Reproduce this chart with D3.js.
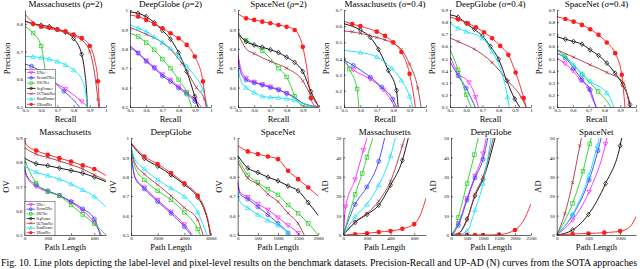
<!DOCTYPE html>
<html>
<head>
<meta charset="utf-8">
<script src="https://cdn.jsdelivr.net/npm/d3@7"></script>
<style>
  body { margin: 0; background: #fff; }
  svg { display: block; }
  text { font-family: "Liberation Serif", "DejaVu Serif", serif; }
</style>
</head>
<body>
<div id="chart"></div>
<script>
// methods, in drawing order (last one on top)
const methods = ["UNet++", "RecurrUNet", "DSCNet", "SegFormer", "OCTransNet", "RoadFormer", "URoadNet"];
const colors = ["#ff22ff", "#3b3bff", "#22d022", "#000000", "#a83440", "#10e0ff", "#ff1c1c"];
const shapes = ["triDown", "circleX", "square", "diamond", "cross", "triUp", "dot"];

// [x, y] points; a third value 0 means "curve only, no marker"
const prMassRho = [
  [[0.5,0.63],[0.6,0.61],[0.75,0.565],[0.85,0.52],[0.89,0.5]],
  [[0.5,0.655],[0.54,0.647],[0.64,0.61],[0.74,0.557],[0.8,0.525,0],[0.835,0.5]],
  [[0.5,0.79],[0.55,0.767],[0.6,0.72],[0.625,0.63,0],[0.655,0.5]],
  [[0.5,0.81],[0.55,0.80],[0.6,0.795],[0.65,0.79],[0.7,0.78],[0.75,0.77],[0.8,0.747],[0.85,0.69],[0.87,0.62,0],[0.88,0.56,0],[0.885,0.5]],
  [[0.5,0.835],[0.55,0.805,0],[0.6,0.79],[0.7,0.777],[0.8,0.757],[0.85,0.742],[0.9,0.70],[0.93,0.62,0],[0.95,0.527],[0.955,0.5]],
  [[0.5,0.683],[0.55,0.681],[0.6,0.678],[0.65,0.672],[0.7,0.664],[0.75,0.652],[0.8,0.633],[0.85,0.6,0],[0.875,0.55,0],[0.885,0.5]],
  [[0.5,0.81],[0.55,0.80],[0.6,0.79],[0.65,0.786],[0.7,0.78],[0.75,0.773],[0.8,0.761],[0.85,0.749],[0.9,0.72],[0.93,0.67,0],[0.95,0.593],[0.96,0.5]]
];
const prDeepRho = [
  [[0.5,0.815],[0.55,0.78],[0.6,0.74],[0.65,0.705],[0.7,0.668],[0.75,0.64],[0.8,0.605],[0.85,0.575],[0.9,0.54],[0.94,0.5]],
  [[0.5,0.81],[0.55,0.777],[0.6,0.735],[0.65,0.7],[0.7,0.66],[0.75,0.632],[0.8,0.598],[0.85,0.567],[0.9,0.53],[0.925,0.5]],
  [[0.5,0.88],[0.55,0.863],[0.6,0.832],[0.65,0.795],[0.7,0.747],[0.75,0.7],[0.8,0.64],[0.85,0.575],[0.88,0.5]],
  [[0.5,0.99],[0.55,0.983],[0.6,0.966],[0.65,0.935],[0.7,0.894],[0.75,0.85],[0.8,0.78],[0.85,0.683],[0.9,0.555],[0.92,0.5]],
  [[0.5,0.91],[0.6,0.875],[0.7,0.832],[0.82,0.726],[0.91,0.6],[0.96,0.54],[0.975,0.5]],
  [[0.5,0.923],[0.55,0.906],[0.6,0.889],[0.65,0.86],[0.7,0.832],[0.75,0.803],[0.8,0.76],[0.85,0.709],[0.9,0.66,0],[0.95,0.589],[0.98,0.5]],
  [[0.5,0.974],[0.55,0.966],[0.6,0.949],[0.65,0.928],[0.7,0.906],[0.75,0.88],[0.8,0.854],[0.85,0.82],[0.9,0.76],[0.95,0.632],[0.97,0.5]]
];
const prSpaceRho = [
  [[0.5,0.77],[0.52,0.69,0],[0.55,0.65],[0.6,0.63],[0.65,0.617],[0.7,0.605],[0.75,0.59],[0.8,0.57],[0.85,0.548,0],[0.9,0.52,0],[1,0.5]],
  [[0.5,0.75],[0.52,0.67,0],[0.55,0.64],[0.6,0.625],[0.65,0.613],[0.7,0.6],[0.75,0.588],[0.8,0.57],[0.85,0.55,0],[0.9,0.52,0],[1,0.5]],
  [[0.5,0.9],[0.52,0.86,0],[0.55,0.845],[0.6,0.82,0],[0.65,0.79],[0.7,0.75,0],[0.75,0.7],[0.8,0.655],[0.83,0.6,0],[0.85,0.555],[0.9,0.507],[0.95,0.5,0],[1,0.5]],
  [[0.5,0.88],[0.55,0.837],[0.6,0.82],[0.65,0.808],[0.7,0.795],[0.75,0.78],[0.8,0.757],[0.85,0.73],[0.9,0.683],[0.95,0.58],[1,0.5]],
  [[0.5,0.88],[0.55,0.8,0],[0.6,0.775],[0.7,0.735],[0.8,0.7],[0.9,0.635],[0.95,0.56],[1,0.5]],
  [[0.5,0.7],[0.52,0.63,0],[0.55,0.6],[0.6,0.575],[0.65,0.555],[0.7,0.55],[0.75,0.548],[0.8,0.543],[0.85,0.535],[0.9,0.52,0],[0.95,0.505,0],[1,0.5]],
  [[0.5,0.98],[0.55,0.957],[0.6,0.949],[0.65,0.94],[0.7,0.932],[0.75,0.923],[0.8,0.914],[0.85,0.897],[0.9,0.81],[0.925,0.7,0],[0.95,0.546],[0.97,0.51,0],[1,0.5]]
];
const prMassSigma = [
  [[0.5,0.38],[0.557,0.33],[0.66,0.272],[0.74,0.207],[0.8,0.12,0],[0.81,0.1]],
  [[0.5,0.39],[0.557,0.357],[0.66,0.285],[0.73,0.223],[0.797,0.149],[0.82,0.1]],
  [[0.5,0.41],[0.533,0.334],[0.58,0.211],[0.59,0.1]],
  [[0.5,0.615],[0.6,0.576],[0.66,0.531],[0.71,0.457],[0.77,0.326],[0.82,0.203],[0.83,0.1]],
  [[0.5,0.57],[0.55,0.565],[0.6,0.555],[0.65,0.545],[0.7,0.53],[0.75,0.515],[0.8,0.495],[0.85,0.455],[0.9,0.365],[0.95,0.217],[0.97,0.1]],
  [[0.5,0.45],[0.6,0.437],[0.7,0.41],[0.79,0.34],[0.85,0.265],[0.9,0.166],[0.92,0.1]],
  [[0.5,0.63],[0.55,0.613],[0.6,0.6],[0.7,0.566],[0.75,0.54],[0.8,0.5],[0.85,0.44],[0.9,0.305],[0.92,0.2,0],[0.935,0.1]]
];
const prDeepSigma = [
  [[0.5,0.516],[0.55,0.38],[0.617,0.303],[0.658,0.182],[0.675,0.1]],
  [[0.5,0.475],[0.55,0.357],[0.6,0.256],[0.645,0.13,0],[0.655,0.1]],
  [[0.5,0.577],[0.55,0.407],[0.6,0.201],[0.63,0.1]],
  [[0.5,0.86],[0.55,0.84],[0.6,0.79],[0.65,0.741],[0.7,0.686],[0.75,0.599],[0.8,0.495],[0.85,0.319],[0.9,0.166],[0.93,0.1]],
  [[0.5,0.67],[0.55,0.64],[0.65,0.577],[0.76,0.467],[0.86,0.311],[0.94,0.18],[0.97,0.1]],
  [[0.5,0.79],[0.55,0.749],[0.6,0.722],[0.7,0.667],[0.76,0.557],[0.82,0.38,0],[0.855,0.182],[0.865,0.1]],
  [[0.5,0.84],[0.55,0.823],[0.61,0.79],[0.66,0.758],[0.71,0.716],[0.76,0.667],[0.81,0.604],[0.86,0.53],[0.905,0.385],[0.955,0.174],[0.97,0.1]]
];
const prSpaceSigma = [
  [[0.5,0.5],[0.55,0.46],[0.6,0.4],[0.65,0.32],[0.7,0.25],[0.73,0.15,0],[0.75,0.1]],
  [[0.5,0.54],[0.553,0.503],[0.605,0.421],[0.658,0.325],[0.71,0.242],[0.745,0.1]],
  [[0.5,0.57],[0.55,0.52],[0.66,0.366],[0.76,0.229],[0.82,0.14,0],[0.84,0.1]],
  [[0.5,0.68],[0.553,0.659],[0.605,0.64],[0.658,0.618],[0.71,0.571],[0.763,0.525],[0.815,0.462],[0.868,0.379],[0.916,0.283],[0.962,0.12],[0.965,0.1]],
  [[0.5,0.571],[0.605,0.511],[0.71,0.448],[0.815,0.385],[0.92,0.303],[0.96,0.1]],
  [[0.5,0.55],[0.55,0.51,0],[0.605,0.448],[0.658,0.374],[0.71,0.311],[0.815,0.215],[0.845,0.15,0],[0.86,0.1]],
  [[0.5,0.845],[0.553,0.826],[0.605,0.804],[0.658,0.777],[0.71,0.741],[0.763,0.695],[0.815,0.632],[0.868,0.544],[0.91,0.366],[0.93,0.1]]
];

const ovMass = [
  [[0,0.77],[20,0.74,0],[100,0.7],[200,0.679],[300,0.663],[400,0.635],[500,0.6],[600,0.551],[660,0.5]],
  [[0,0.78],[20,0.745,0],[100,0.707],[200,0.682],[300,0.663],[400,0.638],[500,0.608],[600,0.566],[650,0.5]],
  [[0,0.81],[100,0.714],[200,0.679],[300,0.661],[400,0.624],[500,0.585],[600,0.546],[700,0.5]],
  [[0,0.817],[100,0.794],[200,0.786],[300,0.776],[400,0.766],[500,0.755],[600,0.739],[700,0.72]],
  [[0,0.86],[100,0.833],[200,0.82],[300,0.805],[400,0.79],[500,0.772],[600,0.748],[700,0.725]],
  [[0,0.783],[100,0.759],[200,0.745],[300,0.73],[400,0.71],[500,0.686],[600,0.659],[700,0.615]],
  [[0,0.895],[20,0.87,0],[100,0.848],[200,0.831],[300,0.817],[400,0.803],[500,0.787],[600,0.772],[700,0.745]]
];
const ovDeep = [
  [[0,0.92],[300,0.8,0],[1000,0.745],[2000,0.68],[3000,0.62],[4000,0.555],[4600,0.5]],
  [[0,0.92],[300,0.795,0],[1000,0.738],[2000,0.672],[3000,0.612],[4000,0.543],[4500,0.5]],
  [[0,0.94],[300,0.85,0],[1000,0.784],[2000,0.728],[3000,0.681],[4000,0.617],[5000,0.531],[5200,0.5]],
  [[0,0.97],[1000,0.895],[2000,0.855],[3000,0.81],[4000,0.76],[5000,0.695],[5500,0.63,0],[5800,0.56,0],[5950,0.5]],
  [[0,0.95],[300,0.87,0],[1000,0.814],[2000,0.759],[3000,0.702],[4000,0.641],[5000,0.578],[5400,0.5]],
  [[0,0.96],[300,0.89,0],[1000,0.84],[2000,0.785],[3000,0.741],[4000,0.698],[5000,0.617],[5700,0.5]],
  [[0,0.975],[1000,0.905],[2000,0.866],[3000,0.819],[4000,0.767],[5000,0.703],[5500,0.64,0],[5800,0.57,0],[6000,0.5]]
];
const ovSpace = [
  [[0,0.78],[60,0.72,0],[250,0.695],[500,0.66],[750,0.63],[1000,0.59],[1250,0.55],[1500,0.51],[1550,0.5]],
  [[0,0.77],[60,0.71,0],[250,0.685],[500,0.645],[750,0.605],[1000,0.56],[1250,0.51],[1280,0.5]],
  [[0,0.9],[250,0.81],[500,0.771],[750,0.736],[1000,0.707],[1250,0.655],[1500,0.612],[1750,0.56],[2000,0.5]],
  [[0,0.91],[250,0.845],[500,0.822],[750,0.798],[1000,0.779],[1250,0.753],[1500,0.728],[1750,0.667],[2000,0.6]],
  [[0,0.88],[250,0.793],[500,0.762],[750,0.71],[1000,0.672],[1250,0.612],[1500,0.559],[1650,0.5]],
  [[0,0.72],[60,0.67,0],[250,0.64],[500,0.605],[750,0.575],[1000,0.55],[1250,0.51],[1300,0.5]],
  [[0,0.96],[250,0.931],[500,0.917],[750,0.905],[1000,0.891],[1250,0.831],[1500,0.788],[1750,0.745],[2000,0.7]]
];

const adMass = [
  [[0,0],[20,14.6],[100,28.6],[170,43.7],[200,50]],
  [[0,0],[100,15.8],[200,24.8],[300,38],[350,50]],
  [[0,0],[100,20.9],[160,31.7],[200,40],[250,50]],
  [[0,0],[100,6.5],[200,10.6],[300,15.4],[400,25.7],[500,38.5],[550,50]],
  [[0,0],[100,6.8],[200,11.1],[300,17.5],[400,27.7],[500,46],[520,50]],
  [[0,0],[100,9.4],[200,15.8],[300,25.7],[400,40.8],[440,50]],
  [[0,0],[100,0.4],[200,0.9],[300,1.5],[400,2.1],[500,3.2],[600,5.6],[650,10,0],[700,19]]
];
const adDeep = [
  [[0,0],[230,6],[500,19],[750,30.5],[1000,42],[1100,50]],
  [[0,0],[230,5],[500,18],[750,29.5],[1000,39],[1150,50]],
  [[0,0],[100,1,0],[230,9],[500,26.5],[730,41.4],[850,50]],
  [[0,0],[250,1,0],[500,8.2],[750,20.2],[1000,28.6],[1375,50]],
  [[0,0],[250,1,0],[500,7.7],[750,21],[1000,30],[1320,50]],
  [[0,0],[250,0.3,0],[500,2],[750,12.8],[1000,26.5],[1250,50]],
  [[0,0],[250,0],[500,0],[750,0],[1000,0],[1500,0.2],[2000,2.6],[2250,7,0],[2500,16]]
];
const adSpace = [
  [[0,0],[250,7.7],[510,22.3],[770,47],[790,50]],
  [[0,0],[250,10.2],[510,28.3],[650,43.5],[700,50]],
  [[0,0],[250,16.3],[415,32.9],[520,47],[545,50]],
  [[0,0],[250,2.6],[500,10.6],[770,26.5],[1000,46],[1025,50]],
  [[0,0],[130,11.1],[250,27],[365,46],[390,50]],
  [[0,0],[250,10.6],[510,30.8],[640,46],[670,50]],
  [[0,0],[250,0.5],[500,0.8],[750,1.2],[1000,2],[1150,4,0],[1250,9.5]]
];

// tick labels
const recallTicks = [0.5, 0.6, 0.7, 0.8, 0.9, 1];
const precTicksA = [0.5, 0.6, 0.7, 0.8];
const precTicksB = [0.5, 0.6, 0.7, 0.8, 0.9, 1];
const precTicksC = [0.1, 0.2, 0.3, 0.4, 0.5, 0.6, 0.7];
const precTicksD = [0.1, 0.2, 0.3, 0.4, 0.5, 0.6, 0.7, 0.8, 0.9];
const ovTicksA = [0.5, 0.6, 0.7, 0.8, 0.9];
const ovTicksB = [0.5, 0.6, 0.7, 0.8, 0.9, 1];
const adTicks = [0, 10, 20, 30, 40, 50];
const lenTicksMass = [0, 200, 400, 600];
const lenTicksDeepOV = [0, 2000, 4000, 6000];
const lenTicksSpaceOV = [0, 500, 1000, 1500, 2000];
const lenTicksDeepAD = [0, 500, 1000, 1500, 2000, 2500];
const lenTicksSpaceAD = [0, 500, 1000];

const caption = "Fig. 10.  Line plots depicting the label-level and pixel-level results on the benchmark datasets. Precision-Recall and UP-AD (N) curves from the SOTA approaches";

const W = 640, H = 269;
const top1 = 10, bot1 = 107, top2 = 138, bot2 = 235;

const panels = [
  {title: ["Massachusetts (", "ρ", "=2)"], data: prMassRho, xd: [0.5, 1], yd: [0.5, 0.85], xt: recallTicks, yt: precTicksA, xl: "Recall", yl: "Precision", box: [25, 106, top1, bot1], legend: true},
  {title: ["DeepGlobe (", "ρ", "=2)"], data: prDeepRho, xd: [0.5, 1], yd: [0.5, 1], xt: recallTicks, yt: precTicksB, xl: "Recall", yl: "Precision", box: [130, 211, top1, bot1]},
  {title: ["SpaceNet (", "ρ", "=2)"], data: prSpaceRho, xd: [0.5, 1], yd: [0.5, 1], xt: recallTicks, yt: precTicksB, xl: "Recall", yl: "Precision", box: [238, 319, top1, bot1]},
  {title: ["Massachusetts (", "σ", "=0.4)"], data: prMassSigma, xd: [0.5, 1], yd: [0.1, 0.7], xt: recallTicks, yt: precTicksC, xl: "Recall", yl: "Precision", box: [344, 426, top1, bot1]},
  {title: ["DeepGlobe (", "σ", "=0.4)"], data: prDeepSigma, xd: [0.5, 1], yd: [0.1, 0.9], xt: recallTicks, yt: precTicksD, xl: "Recall", yl: "Precision", box: [450, 531, top1, bot1]},
  {title: ["SpaceNet (", "σ", "=0.4)"], data: prSpaceSigma, xd: [0.5, 1], yd: [0.1, 0.9], xt: recallTicks, yt: precTicksD, xl: "Recall", yl: "Precision", box: [557, 636, top1, bot1]},
  {title: ["Massachusetts"], data: ovMass, xd: [0, 700], yd: [0.5, 0.9], xt: lenTicksMass, yt: ovTicksA, xl: "Path Length", yl: "OV", box: [24.5, 106, top2, bot2], legend: true},
  {title: ["DeepGlobe"], data: ovDeep, xd: [0, 6000], yd: [0.5, 1], xt: lenTicksDeepOV, yt: ovTicksB, xl: "Path Length", yl: "OV", box: [131, 211, top2, bot2]},
  {title: ["SpaceNet"], data: ovSpace, xd: [0, 2000], yd: [0.5, 1], xt: lenTicksSpaceOV, yt: ovTicksB, xl: "Path Length", yl: "OV", box: [237.7, 318.3, top2, bot2]},
  {title: ["Massachusetts"], data: adMass, xd: [0, 700], yd: [0, 50], xt: lenTicksMass, yt: adTicks, xl: "Path Length", yl: "AD", box: [343.3, 426, top2, bot2]},
  {title: ["DeepGlobe"], data: adDeep, xd: [0, 2500], yd: [0, 50], xt: lenTicksDeepAD, yt: adTicks, xl: "Path Length", yl: "AD", box: [451, 531, top2, bot2]},
  {title: ["SpaceNet"], data: adSpace, xd: [0, 1250], yd: [0, 50], xt: lenTicksSpaceAD, yt: adTicks, xl: "Path Length", yl: "AD", box: [556.7, 636, top2, bot2]}
];

const svg = d3.select("#chart").append("svg")
  .attr("width", W)
  .attr("height", H);

const fmt = d3.format("~g");

function marker(g, shape, color, cx, cy, s) {
  const sw = 0.7;
  if (shape === "dot") {
    g.append("circle").attr("cx", cx).attr("cy", cy).attr("r", s * 1.15).attr("fill", color);
  } else if (shape === "circleX") {
    g.append("circle").attr("cx", cx).attr("cy", cy).attr("r", s).attr("fill", "none").attr("stroke", color).attr("stroke-width", sw);
    const k = s * 0.6;
    g.append("path").attr("d", `M${cx - k},${cy - k}L${cx + k},${cy + k}M${cx - k},${cy + k}L${cx + k},${cy - k}`)
      .attr("stroke", color).attr("stroke-width", 0.5);
  } else if (shape === "square") {
    const k = s * 0.9;
    g.append("rect").attr("x", cx - k).attr("y", cy - k).attr("width", 2 * k).attr("height", 2 * k)
      .attr("fill", "none").attr("stroke", color).attr("stroke-width", sw);
  } else if (shape === "diamond") {
    const k = s * 1.2;
    g.append("path").attr("d", `M${cx},${cy - k}L${cx + k * 0.8},${cy}L${cx},${cy + k}L${cx - k * 0.8},${cy}Z`)
      .attr("fill", "none").attr("stroke", color).attr("stroke-width", sw);
  } else if (shape === "cross") {
    const k = s * 0.8;
    g.append("path").attr("d", `M${cx - k},${cy - k}L${cx + k},${cy + k}M${cx - k},${cy + k}L${cx + k},${cy - k}`)
      .attr("stroke", color).attr("stroke-width", sw);
  } else if (shape === "triUp") {
    const k = s * 1.15;
    g.append("path").attr("d", `M${cx},${cy - k}L${cx + k},${cy + k * 0.7}L${cx - k},${cy + k * 0.7}Z`)
      .attr("fill", "none").attr("stroke", color).attr("stroke-width", sw);
  } else if (shape === "triDown") {
    const k = s * 1.15;
    g.append("path").attr("d", `M${cx},${cy + k}L${cx + k},${cy - k * 0.7}L${cx - k},${cy - k * 0.7}Z`)
      .attr("fill", "none").attr("stroke", color).attr("stroke-width", sw);
  }
}

panels.forEach((p, i) => {
  const [x0, x1, yT, yB] = p.box;
  const x = d3.scaleLinear().domain(p.xd).range([x0, x1]);
  const y = d3.scaleLinear().domain(p.yd).range([yB, yT]);
  const g = svg.append("g");
  const cid = "clip" + i;

  svg.append("clipPath").attr("id", cid)
    .append("rect")
    .attr("x", x0).attr("y", yT)
    .attr("width", x1 - x0).attr("height", yB - yT);

  // curves
  const line = d3.line()
    .x(d => x(d[0]))
    .y(d => y(d[1]))
    .curve(d3.curveMonotoneX);

  p.data.forEach((pts, si) => {
    const sg = g.append("g").attr("clip-path", `url(#${cid})`);
    sg.append("path")
      .datum(pts)
      .attr("d", line)
      .attr("fill", "none")
      .attr("stroke", colors[si])
      .attr("stroke-width", 0.9);
    pts.slice(1, -1)
      .filter(d => d[2] !== 0)
      .forEach(d => marker(sg, shapes[si], colors[si], x(d[0]), y(d[1]), 2));
  });

  // axes (MATLAB style, inward ticks, no box)
  const ax = g.append("g")
    .attr("transform", `translate(0,${yB})`)
    .call(d3.axisBottom(x).tickValues(p.xt).tickFormat(fmt).tickSizeInner(-2).tickSizeOuter(0).tickPadding(1.5));
  const ay = g.append("g")
    .attr("transform", `translate(${x0},0)`)
    .call(d3.axisLeft(y).tickValues(p.yt).tickFormat(fmt).tickSizeInner(-2).tickSizeOuter(0).tickPadding(2));
  [ax, ay].forEach(a => {
    a.select(".domain").attr("stroke", "#000").attr("stroke-width", 0.6);
    a.selectAll(".tick line").attr("stroke", "#000").attr("stroke-width", 0.5);
    a.selectAll(".tick text")
      .attr("font-family", "'Liberation Serif', serif")
      .attr("font-size", "5px")
      .attr("fill", "#000");
  });

  // title
  const t = g.append("text")
    .attr("x", (x0 + x1) / 2)
    .attr("y", yT - 3)
    .attr("text-anchor", "middle")
    .attr("font-size", "9px")
    .attr("fill", "#000");
  p.title.forEach((s, k) => {
    t.append("tspan").text(s).attr("font-style", k === 1 ? "italic" : null);
  });

  // axis labels
  g.append("text")
    .attr("x", (x0 + x1) / 2)
    .attr("y", yB + 14.5)
    .attr("text-anchor", "middle")
    .attr("font-size", "8.5px")
    .text(p.xl);
  g.append("text")
    .attr("transform", `translate(${x0 - 15.5},${(yT + yB) / 2}) rotate(-90)`)
    .attr("text-anchor", "middle")
    .attr("font-size", "8.5px")
    .text(p.yl);

  // legend
  if (p.legend) {
    const lx = x0 + 0.5, ly = yB - (i === 0 ? 37.5 : 33.5);
    const lw = 30, rowH = i === 0 ? 5.3 : 4.7;
    const lg = g.append("g");
    lg.append("rect")
      .attr("x", lx).attr("y", ly)
      .attr("width", lw).attr("height", rowH * 7 + 1)
      .attr("fill", "#fff").attr("stroke", "#000").attr("stroke-width", 0.4);
    methods.forEach((m, k) => {
      const cy = ly + 3 + rowH * k;
      lg.append("line")
        .attr("x1", lx + 1.5).attr("x2", lx + 10)
        .attr("y1", cy).attr("y2", cy)
        .attr("stroke", colors[k]).attr("stroke-width", 0.8);
      marker(lg, shapes[k], colors[k], lx + 5.75, cy, 1.4);
      lg.append("text")
        .attr("x", lx + 11.5).attr("y", cy + 1.2)
        .attr("font-size", i === 0 ? "3.5px" : "3.2px")
        .text(m);
    });
  }
});

svg.append("text")
  .attr("x", 1)
  .attr("y", 266.3)
  .attr("font-size", "9.5px")
  .attr("fill", "#000")
  .attr("textLength", 636)
  .attr("lengthAdjust", "spacingAndGlyphs")
  .text(caption);
</script>
</body>
</html>
